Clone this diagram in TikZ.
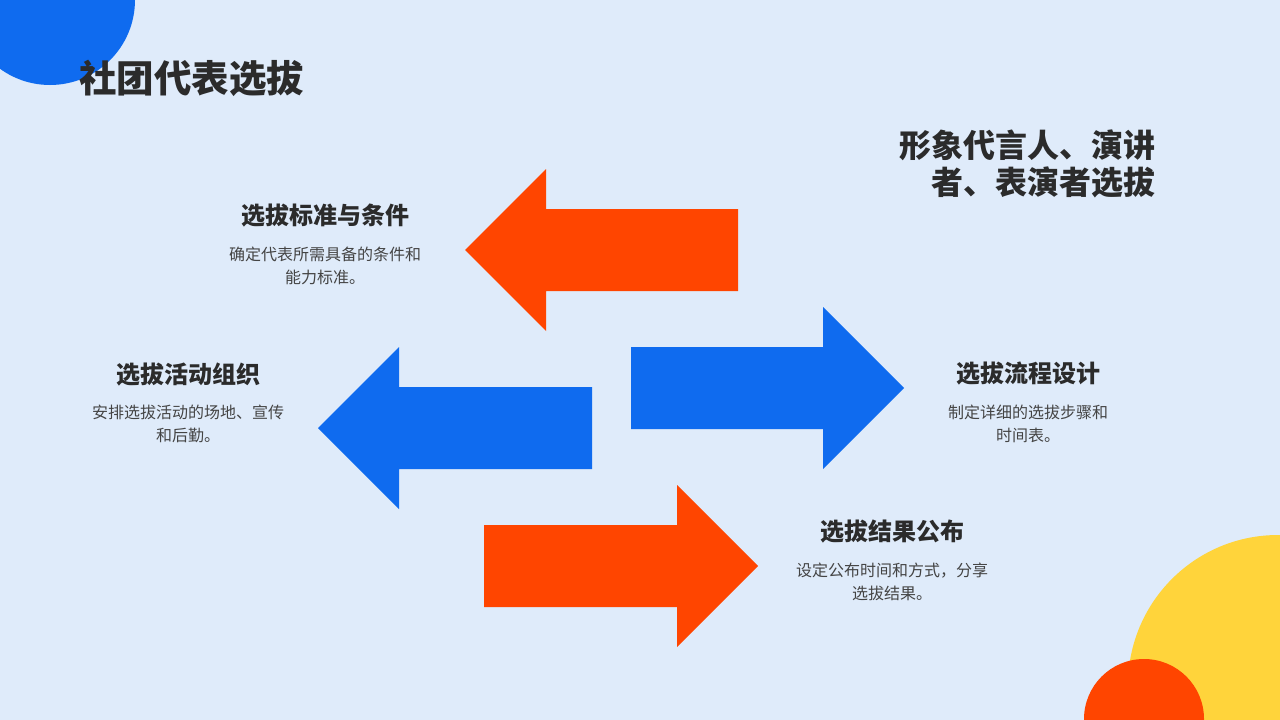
\documentclass[tikz,border=0pt]{standalone}
\usepackage{fontspec}
\setmainfont{Noto Sans CJK SC}
\definecolor{bgc}{HTML}{DFEBFA}
\definecolor{bluec}{HTML}{0F6BEF}
\definecolor{redc}{HTML}{FF4500}
\definecolor{yellowc}{HTML}{FFD43B}
\definecolor{txtc}{HTML}{2B2B2B}
\definecolor{bodyc}{HTML}{444444}
\tikzset{
  heading/.style={text=txtc, font=\fontsize{24}{28}\selectfont\bfseries, inner sep=0pt},
  bodytext/.style={text=bodyc, font=\fontsize{16}{23.5}\selectfont, align=center, inner sep=0pt},
  bigarrow/.style={fill=#1},
}
\begin{document}
\begin{tikzpicture}[x=1pt,y=-1pt]
\useasboundingbox (0,0) rectangle (1280,720);
\clip (0,0) rectangle (1280,720);
\fill[bgc] (0,0) rectangle (1280,720);
% decorative circles
\fill[bluec] (50,0) circle[radius=85];
\fill[yellowc] (1278,685) circle[radius=150];
\fill[redc] (1144,719) circle[radius=60];
% title
\node[anchor=west, text=txtc, font=\fontsize{37.5}{40}\selectfont\bfseries, inner sep=0pt] (title) at (79,78) {社团代表选拔};
\node[anchor=east, align=right, text=txtc, font=\fontsize{32}{37}\selectfont\bfseries, inner sep=0pt] (sub) at (1156,164) {形象代言人、演讲\\者、表演者选拔};
% arrows
\fill[bigarrow=redc] (465,250) -- (546,169) -- (546,209) -- (738,209) -- (738,291) -- (546,291) -- (546,331) -- cycle;
\fill[bigarrow=bluec] (631,347) -- (823,347) -- (823,307) -- (904,388) -- (823,469) -- (823,429) -- (631,429) -- cycle;
\fill[bigarrow=bluec] (318,428) -- (399,347) -- (399,387) -- (592,387) -- (592,469) -- (399,469) -- (399,509) -- cycle;
\fill[bigarrow=redc] (484,525) -- (677,525) -- (677,485) -- (758,566) -- (677,647) -- (677,607) -- (484,607) -- cycle;
% labels
\node[heading] (h1) at (325,216) {选拔标准与条件};
\node[bodytext] (b1) at (325,266) {确定代表所需具备的条件和\\能力标准。};
\node[heading] (h2) at (188,374) {选拔活动组织};
\node[bodytext] (b2) at (188,424) {安排选拔活动的场地、宣传\\和后勤。};
\node[heading] (h3) at (1028,374) {选拔流程设计};
\node[bodytext] (b3) at (1028,424) {制定详细的选拔步骤和\\时间表。};
\node[heading] (h4) at (892,532) {选拔结果公布};
\node[bodytext] (b4) at (892,582) {设定公布时间和方式，分享\\选拔结果。};
\end{tikzpicture}
\end{document}
